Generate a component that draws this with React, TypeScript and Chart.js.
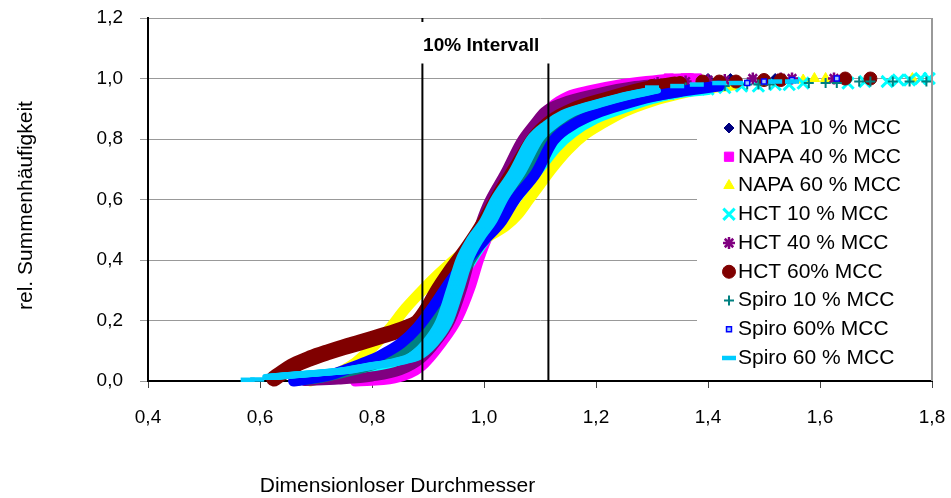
import React, { useEffect, useRef } from 'react';
import { Chart, registerables } from 'chart.js';
import { drawPoint } from 'chart.js/helpers';

Chart.register(...registerables);

type Pt = [number, number];

const seriesLabels = [
  'NAPA 10 % MCC',
  'NAPA 40 % MCC',
  'NAPA 60 % MCC',
  'HCT 10 % MCC',
  'HCT 40 % MCC',
  'HCT 60% MCC',
  'Spiro 10 % MCC',
  'Spiro 60% MCC',
  'Spiro 60 % MCC',
];

// Dense part of each cumulative curve
const napa10Curve: Pt[] = [[0.66, 0.0], [0.70, 0.01], [0.75, 0.03], [0.80, 0.055], [0.84, 0.09], [0.87, 0.13], [0.90, 0.2], [0.93, 0.28], [0.96, 0.36], [0.99, 0.44], [1.02, 0.52], [1.05, 0.59], [1.08, 0.66], [1.11, 0.74], [1.14, 0.8], [1.18, 0.85], [1.22, 0.885], [1.27, 0.92], [1.32, 0.95], [1.37, 0.975]];
const napa40Curve: Pt[] = [[0.77, 0.0], [0.84, 0.01], [0.888, 0.05], [0.923, 0.125], [0.953, 0.21], [0.975, 0.31], [0.99, 0.4], [1.00, 0.45], [1.02, 0.54], [1.04, 0.63], [1.06, 0.72], [1.08, 0.8], [1.10, 0.86], [1.12, 0.905], [1.15, 0.94], [1.19, 0.96], [1.24, 0.978], [1.29, 0.99], [1.33, 0.997], [1.37, 1.0]];
const napa60Curve: Pt[] = [[0.69, 0.0], [0.73, 0.02], [0.77, 0.06], [0.80, 0.11], [0.83, 0.17], [0.86, 0.24], [0.89, 0.3], [0.92, 0.355], [0.95, 0.405], [0.98, 0.445], [1.01, 0.48], [1.04, 0.515], [1.06, 0.55], [1.08, 0.6], [1.10, 0.65], [1.12, 0.7], [1.15, 0.765], [1.18, 0.815], [1.21, 0.85], [1.25, 0.89], [1.30, 0.925], [1.35, 0.95], [1.40, 0.968], [1.45, 0.98]];
const hct10Curve: Pt[] = [[0.68, 0.0], [0.72, 0.003], [0.76, 0.01], [0.80, 0.025], [0.84, 0.05], [0.87, 0.09], [0.90, 0.16], [0.93, 0.25], [0.96, 0.34], [0.99, 0.43], [1.02, 0.51], [1.045, 0.57], [1.07, 0.63], [1.10, 0.7], [1.13, 0.77], [1.16, 0.82], [1.20, 0.865], [1.25, 0.9], [1.30, 0.93], [1.35, 0.95], [1.40, 0.96]];
const hct40Curve: Pt[] = [[0.68, 0.0], [0.74, 0.005], [0.80, 0.015], [0.85, 0.035], [0.888, 0.075], [0.915, 0.13], [0.94, 0.2], [0.96, 0.3], [0.975, 0.4], [0.99, 0.5], [1.006, 0.58], [1.038, 0.688], [1.066, 0.79], [1.09, 0.85], [1.108, 0.89], [1.14, 0.92], [1.20, 0.95], [1.27, 0.975], [1.33, 0.985]];
const hct60Curve: Pt[] = [[0.625, 0.008], [0.64, 0.028], [0.661, 0.052], [0.69, 0.075], [0.721, 0.095], [0.75, 0.112], [0.78, 0.128], [0.81, 0.145], [0.84, 0.162], [0.865, 0.178], [0.882, 0.195], [0.90, 0.24], [0.915, 0.29], [0.94, 0.36], [0.97, 0.435], [1.00, 0.52], [1.03, 0.62], [1.06, 0.71], [1.09, 0.8], [1.12, 0.855], [1.16, 0.895], [1.22, 0.93], [1.28, 0.96], [1.34, 0.98]];
const spiro10Curve: Pt[] = [[0.66, 0.0], [0.70, 0.008], [0.75, 0.028], [0.81, 0.058], [0.852, 0.095], [0.888, 0.148], [0.918, 0.228], [0.95, 0.32], [0.98, 0.41], [1.01, 0.5], [1.04, 0.6], [1.08, 0.688], [1.113, 0.8], [1.15, 0.86], [1.19, 0.89], [1.24, 0.915], [1.30, 0.94], [1.35, 0.955]];
const spiro60aCurve: Pt[] = [[0.66, 0.0], [0.69, 0.008], [0.725, 0.02], [0.757, 0.04], [0.79, 0.063], [0.816, 0.085], [0.852, 0.125], [0.882, 0.178], [0.911, 0.25], [0.94, 0.33], [0.97, 0.4], [1.00, 0.465], [1.032, 0.53], [1.055, 0.6], [1.093, 0.688], [1.124, 0.795], [1.164, 0.853], [1.20, 0.885], [1.25, 0.915], [1.30, 0.94], [1.36, 0.96], [1.42, 0.975]];
const spiro60bCurve: Pt[] = [[0.62, 0.013], [0.66, 0.02], [0.70, 0.026], [0.75, 0.034], [0.80, 0.05], [0.85, 0.066], [0.88, 0.085], [0.91, 0.14], [0.93, 0.2], [0.948, 0.3], [0.965, 0.4], [0.985, 0.47], [1.008, 0.53], [1.027, 0.6], [1.059, 0.69], [1.091, 0.8], [1.12, 0.85], [1.15, 0.885], [1.20, 0.915], [1.25, 0.94], [1.30, 0.96]];

// Sparse single markers (tails)
const napa10Tail: Pt[] = [[1.37, 0.995], [1.40, 1.0], [1.44, 1.0], [1.52, 1.0]];
const napa40Tail: Pt[] = [[1.33, 1.0], [1.36, 1.0], [1.38, 1.0]];
const napa60Tail: Pt[] = [[1.45, 0.985], [1.50, 0.99], [1.57, 0.995], [1.59, 1.0], [1.61, 1.0], [1.765, 1.0]];
const hct10Tail: Pt[] = [[1.30, 0.94], [1.33, 0.95], [1.36, 0.96], [1.40, 0.965], [1.43, 0.97], [1.46, 0.975], [1.49, 0.975], [1.52, 0.98], [1.545, 0.98], [1.57, 0.985], [1.65, 0.985], [1.68, 0.99], [1.72, 0.99], [1.74, 0.995], [1.76, 0.995], [1.78, 1.0], [1.795, 1.0]];
const hct40Tail: Pt[] = [[1.31, 0.985], [1.36, 0.99], [1.40, 0.995], [1.43, 0.995], [1.48, 1.0], [1.53, 1.0], [1.55, 1.0], [1.625, 1.0]];
const hct60Tail: Pt[] = [[1.30, 0.975], [1.35, 0.985], [1.39, 0.99], [1.42, 0.99], [1.45, 0.99], [1.50, 0.995], [1.53, 0.995], [1.645, 1.0], [1.69, 1.0]];
const spiro10Tail: Pt[] = [[1.34, 0.965], [1.36, 0.97], [1.41, 0.975], [1.43, 0.975], [1.47, 0.98], [1.49, 0.98], [1.51, 0.98], [1.58, 0.985], [1.61, 0.985], [1.63, 0.985], [1.67, 0.99], [1.69, 0.99], [1.73, 0.99], [1.76, 0.99], [1.79, 0.99]];
const spiro60aTail: Pt[] = [[1.47, 0.985], [1.50, 0.99], [1.55, 0.995], [1.63, 1.0]];
const spiro60bTail: Pt[] = [[0.578, 0.004], [0.595, 0.005], [1.30, 0.97], [1.345, 0.975], [1.38, 0.98], [1.42, 0.985], [1.45, 0.985], [1.52, 0.99], [1.55, 0.99]];

const curveData: Pt[][] = [napa10Curve, napa40Curve, napa60Curve, hct10Curve, hct40Curve, hct60Curve, spiro10Curve, spiro60aCurve, spiro60bCurve];
const tailData: Pt[][] = [napa10Tail, napa40Tail, napa60Tail, hct10Tail, hct40Tail, hct60Tail, spiro10Tail, spiro60aTail, spiro60bTail];

const xTickLabels = ['0,4', '0,6', '0,8', '1,0', '1,2', '1,4', '1,6', '1,8'];
const yTickLabels = ['0,0', '0,2', '0,4', '0,6', '0,8', '1,0', '1,2'];

const intervalX = [0.89, 1.115];
const intervalTop = 1.05;
const intervalStub = [1.187, 1.2];
const intervalLabel = '10% Intervall';
const intervalLabelPos: Pt = [0.995, 1.107];
const xTitle = 'Dimensionloser Durchmesser';
const xTitleCenter = 0.8455;
const yTitle = 'rel. Summenhäufigkeit';
const yTitleCenter = 0.58;

// Styles
const FONT = '"Liberation Sans", Arial, Helvetica, sans-serif';
const seriesColors = ['#000080', '#FF00FF', '#FFFF00', '#00FFFF', '#800080', '#800000', '#008080', '#0000FF', '#00CCFF'];
const bandWidths = [10, 11, 11, 9, 10, 16, 10, 11, 6];
// horizontal brush (wide dash markers) for the last series
const brushOffsets: (number[] | null)[] = [null, null, null, null, null, null, null, null, [-6, -4.5, -3, -1.5, 0, 1.5, 3, 4.5, 6]];
const markerStyles = [
  { pointStyle: 'rectRot', radius: 5, border: 1, fill: '#000080', stroke: '#000080' },
  { pointStyle: 'rect', radius: 6.5, border: 1, fill: '#FF00FF', stroke: '#FF00FF' },
  { pointStyle: 'triangle', radius: 6, border: 1, fill: '#FFFF00', stroke: '#FFFF00' },
  { pointStyle: 'crossRot', radius: 8, border: 3, fill: '#00FFFF', stroke: '#00FFFF' },
  { pointStyle: 'star', radius: 6, border: 2.5, fill: '#800080', stroke: '#800080' },
  { pointStyle: 'circle', radius: 6.5, border: 1, fill: '#800000', stroke: '#800000' },
  { pointStyle: 'cross', radius: 5, border: 2, fill: '#008080', stroke: '#008080' },
  { pointStyle: 'rect', radius: 3.5, border: 1.5, fill: '#9ecbff', stroke: '#0000FF' },
  { pointStyle: 'line', radius: 7, border: 4.5, fill: '#00CCFF', stroke: '#00CCFF' },
];

const toXY = (pts: Pt[]) => pts.map(([x, y]) => ({ x, y }));

const brushPlugin = {
  id: 'brush',
  beforeDatasetDraw(chart: any, args: any) {
    const ds = chart.data.datasets[args.index];
    if (!ds.brush) return;
    const ctx = chart.ctx;
    for (const dx of ds.brush as number[]) {
      ctx.save();
      ctx.translate(dx, 0);
      args.meta.dataset.draw(ctx, chart.chartArea);
      ctx.restore();
    }
    return false;
  },
};

const overlayPlugin = {
  id: 'overlay',
  afterDatasetsDraw(chart: any) {
    const { ctx, chartArea } = chart;
    const xs = chart.scales.x;
    const ys = chart.scales.y;
    ctx.save();

    // interval label
    ctx.font = `bold 19px ${FONT}`;
    ctx.fillStyle = '#000';
    ctx.textAlign = 'center';
    ctx.textBaseline = 'middle';
    ctx.fillText(intervalLabel, xs.getPixelForValue(intervalLabelPos[0]), ys.getPixelForValue(intervalLabelPos[1]));

    // legend
    const boxLeft = chartArea.right - 235;
    const boxTop = chartArea.top + 92;
    const boxBottom = chartArea.bottom - 6;
    ctx.fillStyle = '#fff';
    ctx.fillRect(boxLeft, boxTop, chartArea.right - boxLeft, boxBottom - boxTop);
    const markerX = chartArea.right - 203;
    const textX = chartArea.right - 194;
    const firstY = chartArea.top + 110;
    const step = 28.75;
    seriesLabels.forEach((label, i) => {
      const m = markerStyles[i];
      const cy = firstY + i * step;
      ctx.fillStyle = m.fill;
      ctx.strokeStyle = m.stroke;
      ctx.lineWidth = m.border;
      drawPoint(ctx, { pointStyle: m.pointStyle as any, radius: m.radius, borderWidth: m.border, rotation: 0 }, markerX, cy);
      ctx.fillStyle = '#000';
      ctx.font = `21px ${FONT}`;
      ctx.textAlign = 'left';
      ctx.textBaseline = 'middle';
      ctx.fillText(label, textX, cy);
    });

    // plot area right border
    ctx.strokeStyle = '#999';
    ctx.lineWidth = 2;
    ctx.beginPath();
    ctx.moveTo(chartArea.right, chartArea.top);
    ctx.lineTo(chartArea.right, chartArea.bottom);
    ctx.stroke();

    // axis titles
    ctx.fillStyle = '#000';
    ctx.font = `21px ${FONT}`;
    ctx.textAlign = 'center';
    ctx.textBaseline = 'middle';
    ctx.fillText(xTitle, xs.getPixelForValue(xTitleCenter), chart.height - 12);

    ctx.translate(26, ys.getPixelForValue(yTitleCenter));
    ctx.rotate(-Math.PI / 2);
    ctx.fillText(yTitle, 0, 0);
    ctx.restore();
  },
};

export default function App() {
  const canvasRef = useRef<HTMLCanvasElement | null>(null);

  useEffect(() => {
    const canvas = canvasRef.current;
    if (!canvas) return;
    Chart.defaults.font.family = FONT;

    const datasets: any[] = [];
    seriesLabels.forEach((label, i) => {
      const m = markerStyles[i];
      datasets.push({
        label: label + ' (band)',
        data: toXY(curveData[i]),
        showLine: true,
        borderColor: seriesColors[i],
        backgroundColor: seriesColors[i],
        borderWidth: bandWidths[i],
        borderCapStyle: 'round',
        borderJoinStyle: 'round',
        cubicInterpolationMode: 'monotone',
        pointRadius: 0,
        pointHoverRadius: 0,
        clip: false,
        brush: brushOffsets[i],
        order: (8 - i) * 2 + 1,
      });
      datasets.push({
        label,
        data: toXY(tailData[i]),
        showLine: false,
        pointStyle: m.pointStyle,
        pointRadius: m.radius,
        pointHoverRadius: m.radius,
        pointBorderWidth: m.border,
        pointBorderColor: m.stroke,
        pointBackgroundColor: m.fill,
        clip: false,
        order: (8 - i) * 2,
      });
    });
    datasets.push({
      label: 'interval low',
      data: [
        { x: intervalX[0], y: 0 },
        { x: intervalX[0], y: intervalTop },
        { x: intervalX[0], y: null },
        { x: intervalX[0], y: intervalStub[0] },
        { x: intervalX[0], y: intervalStub[1] },
      ],
      showLine: true,
      spanGaps: false,
      borderColor: '#000',
      borderWidth: 2,
      pointRadius: 0,
      order: -1,
    });
    datasets.push({
      label: 'interval high',
      data: [
        { x: intervalX[1], y: 0 },
        { x: intervalX[1], y: intervalTop },
      ],
      showLine: true,
      borderColor: '#000',
      borderWidth: 2,
      pointRadius: 0,
      order: -1,
    });

    const chart = new Chart(canvas, {
      type: 'line',
      data: { datasets },
      options: {
        responsive: false,
        animation: false,
        events: [],
        devicePixelRatio: 1,
        layout: { padding: { left: 0, top: 18, right: 19, bottom: 0 } },
        plugins: {
          legend: { display: false },
          tooltip: { enabled: false },
          title: { display: false },
        },
        scales: {
          x: {
            type: 'linear',
            min: 0.4,
            max: 1.8,
            ticks: {
              stepSize: 0.2,
              autoSkip: false,
              maxRotation: 0,
              padding: 18,
              color: '#000',
              font: { family: FONT, size: 19 },
              callback: (_v: any, i: number) => xTickLabels[i] ?? '',
            },
            grid: { drawOnChartArea: false, drawTicks: true, tickLength: 7, tickColor: '#444', lineWidth: 1 },
            border: { display: true, color: '#000', width: 2 },
            afterFit: (s: any) => {
              s.height = 117;
              s.paddingLeft = 0;
              s.paddingRight = 0;
              s.paddingTop = 0;
              s.paddingBottom = 0;
            },
          },
          y: {
            type: 'linear',
            min: 0,
            max: 1.2,
            ticks: {
              stepSize: 0.2,
              autoSkip: false,
              padding: 17,
              color: '#000',
              font: { family: FONT, size: 19 },
              callback: (_v: any, i: number) => yTickLabels[i] ?? '',
            },
            grid: { color: '#999', lineWidth: 1, tickLength: 8, tickColor: '#999' },
            border: { display: true, color: '#000', width: 2 },
            afterFit: (s: any) => {
              s.width = 148;
              s.paddingLeft = 0;
              s.paddingRight = 0;
              s.paddingTop = 0;
              s.paddingBottom = 0;
            },
          },
        },
      } as any,
      plugins: [brushPlugin, overlayPlugin],
    });

    return () => chart.destroy();
  }, []);

  return (
    <div style={{ position: 'absolute', left: 0, top: 0, width: 951, height: 498, background: '#fff' }}>
      <canvas ref={canvasRef} width={951} height={498} style={{ display: 'block' }} />
    </div>
  );
}
